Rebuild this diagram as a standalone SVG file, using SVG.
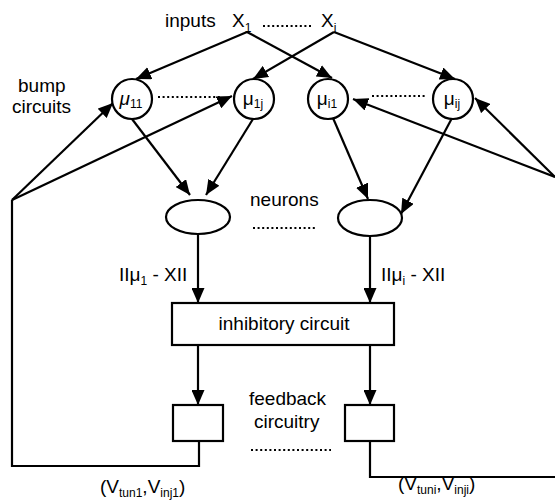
<svg xmlns="http://www.w3.org/2000/svg" width="555" height="502" viewBox="0 0 555 502">
<style>
text{font-family:"Liberation Sans",Arial,sans-serif;font-size:19px;fill:#000}
.sub{font-size:12px}
.mu{font-size:19px}
.ln{stroke:#000;stroke-width:2.2;fill:none}
.shape{stroke:#000;stroke-width:2.2;fill:#fff}
.dot{stroke:#000;stroke-width:2;stroke-dasharray:2,2.6;fill:none}
</style>
<defs>
<marker id="ah" markerUnits="userSpaceOnUse" markerWidth="16" markerHeight="13" refX="15" refY="6.5" orient="auto">
<path d="M0,0 L15,6.5 L0,13 z" fill="#000"/>
</marker>
</defs>
<rect width="555" height="502" fill="#fff"/>
<g id="connectors">
<line class="ln" x1="247" y1="32" x2="136" y2="79" marker-end="url(#ah)"/>
<line class="ln" x1="247" y1="32" x2="332" y2="78" marker-end="url(#ah)"/>
<line class="ln" x1="334" y1="32" x2="253" y2="79" marker-end="url(#ah)"/>
<line class="ln" x1="334" y1="32" x2="455" y2="79" marker-end="url(#ah)"/>
<polyline class="ln" points="199,441 199,466 12,466 12,200"/>
<line class="ln" x1="12" y1="200" x2="113" y2="103" marker-end="url(#ah)"/>
<line class="ln" x1="12" y1="200" x2="232" y2="96" marker-end="url(#ah)"/>
<polyline class="ln" points="370,441 370,477 555,477"/>
<line class="ln" x1="555" y1="177" x2="353" y2="99" marker-end="url(#ah)"/>
<line class="ln" x1="555" y1="177" x2="475" y2="98" marker-end="url(#ah)"/>
<line class="ln" x1="132" y1="119" x2="190" y2="195" marker-end="url(#ah)"/>
<line class="ln" x1="253" y1="119" x2="206" y2="195" marker-end="url(#ah)"/>
<line class="ln" x1="333" y1="118" x2="368" y2="199" marker-end="url(#ah)"/>
<line class="ln" x1="452" y1="118" x2="401" y2="214" marker-end="url(#ah)"/>
<line class="ln" x1="198" y1="234" x2="198" y2="303" marker-end="url(#ah)"/>
<line class="ln" x1="370" y1="236" x2="370" y2="303" marker-end="url(#ah)"/>
<line class="ln" x1="198" y1="345" x2="198" y2="405" marker-end="url(#ah)"/>
<line class="ln" x1="370" y1="345" x2="370" y2="405" marker-end="url(#ah)"/>
<line class="dot" x1="158" y1="97" x2="222" y2="97"/>
<line class="dot" x1="372" y1="96" x2="426" y2="96"/>
</g>
<g id="inputs">
<text x="165" y="27">inputs</text>
<text x="232" y="27">X<tspan class="sub" dy="5">1</tspan></text>
<line class="dot" x1="263" y1="26" x2="311" y2="26"/>
<text x="321" y="27">X<tspan class="sub" dy="5">i</tspan></text>
</g>
<g id="bump-label">
<text x="18" y="92">bump</text>
<text x="12" y="113">circuits</text>
</g>
<g id="mu11">
<circle class="shape" cx="132" cy="99" r="20"/>
<text x="131" y="105" text-anchor="middle"><tspan font-style="italic">μ</tspan><tspan class="sub" dy="3">11</tspan></text>
</g>
<g id="mu1j">
<circle class="shape" cx="254" cy="99" r="20"/>
<text x="253" y="105" text-anchor="middle">μ<tspan class="sub" dy="3">1j</tspan></text>
</g>
<g id="mui1">
<circle class="shape" cx="328" cy="99" r="20"/>
<text x="327" y="105" text-anchor="middle">μ<tspan class="sub" dy="3">i1</tspan></text>
</g>
<g id="muij">
<circle class="shape" cx="453" cy="99" r="20"/>
<text x="452" y="105" text-anchor="middle">μ<tspan class="sub" dy="3">ij</tspan></text>
</g>
<g id="neuron1">
<ellipse class="shape" cx="198" cy="217" rx="32" ry="17"/>
</g>
<g id="neuroni">
<ellipse class="shape" cx="370" cy="218" rx="32" ry="18"/>
</g>
<g id="neurons-label">
<text x="250" y="206">neurons</text>
<line class="dot" x1="253" y1="228" x2="317" y2="228"/>
</g>
<g id="dist-labels">
<text x="119" y="281">IIμ<tspan class="sub" dy="4">1</tspan><tspan dy="-4"> - XII</tspan></text>
<text x="381" y="281">IIμ<tspan class="sub" dy="4">i</tspan><tspan dy="-4"> - XII</tspan></text>
</g>
<g id="inhibitory">
<rect class="shape" x="172" y="303" width="222" height="42"/>
<text x="284" y="330" text-anchor="middle">inhibitory circuit</text>
</g>
<g id="feedback1">
<rect class="shape" x="173" y="405" width="50" height="36"/>
</g>
<g id="feedbacki">
<rect class="shape" x="345" y="405" width="49" height="36"/>
</g>
<g id="feedback-label">
<text x="249" y="405">feedback</text>
<text x="254" y="428">circuitry</text>
<line class="dot" x1="251" y1="450" x2="331" y2="450"/>
</g>
<g id="out-labels">
<text x="100" y="493">(V<tspan class="sub" dy="4">tun1</tspan><tspan dy="-4">,V</tspan><tspan class="sub" dy="4">inj1</tspan><tspan dy="-4">)</tspan></text>
<text x="398" y="490">(V<tspan class="sub" dy="4">tuni</tspan><tspan dy="-4">,V</tspan><tspan class="sub" dy="4">inji</tspan><tspan dy="-4">)</tspan></text>
</g>
</svg>
